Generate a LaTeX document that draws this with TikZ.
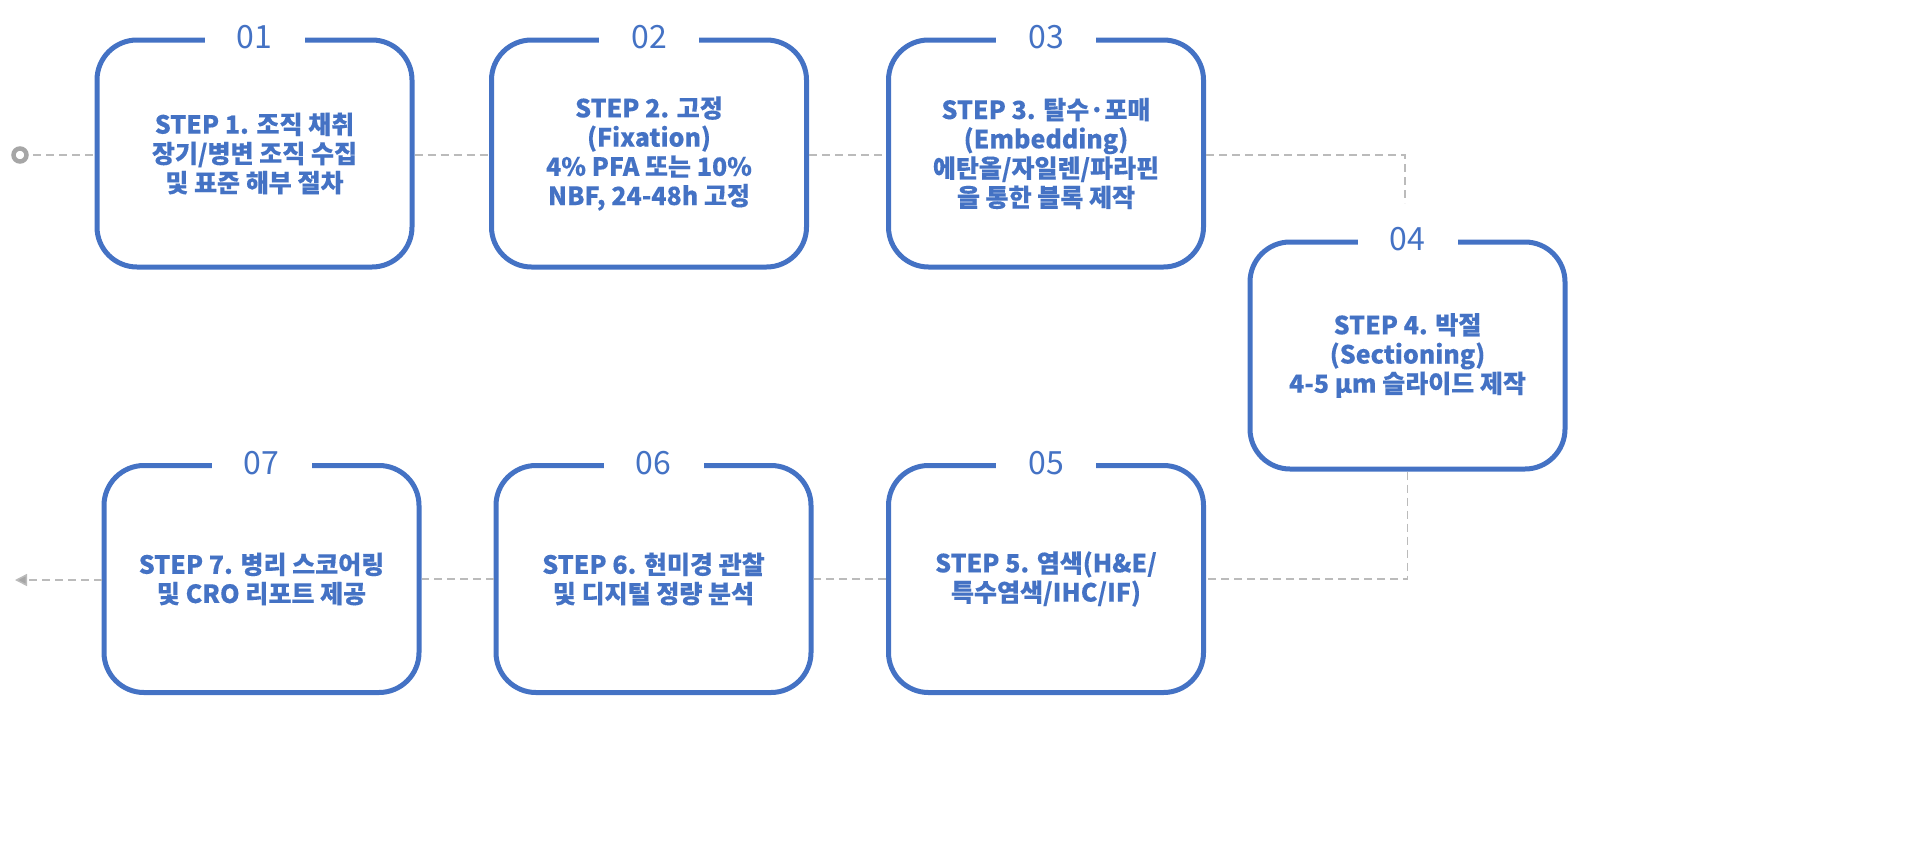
\documentclass[tikz,border=0pt]{standalone}
\usepackage{fontspec}
\setmainfont{Noto Sans CJK KR}[BoldFeatures={FakeBold=0.25}]
\usetikzlibrary{arrows.meta}
\definecolor{bl}{HTML}{4472C4}
\definecolor{gl}{HTML}{BBBBBB}
\begin{document}
\begin{tikzpicture}[x=0.5pt,y=-0.5pt,
  box/.style={draw=bl,line width=2.5pt,rounded corners=20pt,minimum width=157.5pt,minimum height=113.5pt,
    align=center,text=bl,font=\fontsize{12.5}{14.6}\selectfont\bfseries,inner sep=0pt},
  num/.style={fill=white,text=bl,minimum width=50pt,inner sep=1pt,font=\fontsize{16}{16}\selectfont},
  con/.style={draw=gl,line width=0.75pt,dash pattern=on 4pt off 2.5pt}]
\useasboundingbox (0,0) rectangle (1920,851);
\node[box] (b1) at (254.5,153.5) {STEP 1. 조직 채취\\장기/병변 조직 수집\\및 표준 해부 절차};
\node[box] (b2) at (649,153.5) {STEP 2. 고정\\(Fixation)\\4\% PFA 또는 10\%\\NBF, 24-48h 고정};
\node[box] (b3) at (1046,153.5) {STEP 3. 탈수·포매\\(Embedding)\\에탄올/자일렌/파라핀\\을 통한 블록 제작};
\node[box] (b4) at (1407.5,355.5) {STEP 4. 박절\\(Sectioning)\\4-5 μm 슬라이드 제작};
\node[box] (b5) at (1046,579) {STEP 5. 염색(H\&E/\\특수염색/IHC/IF)};
\node[box] (b6) at (653.5,579) {STEP 6. 현미경 관찰\\및 디지털 정량 분석};
\node[box] (b7) at (261.5,579) {STEP 7. 병리 스코어링\\및 CRO 리포트 제공};
\foreach \b/\n in {b1/01,b2/02,b3/03,b4/04,b5/05,b6/06,b7/07}
  \node[num] (n\b) at (\b.north) {\n};
\coordinate (s) at (20,155);
\coordinate (c4) at (1405,203);
\coordinate (e) at (15,580);
\draw[con] (s) -- (b1.west |- s);
\draw[con] (b1.east |- s) -- (b2.west |- s);
\draw[con] (b2.east |- s) -- (b3.west |- s);
\draw[con] (b3.east |- s) -| (c4);
\draw[con] (b4.south) |- (b5.east);
\draw[con] (b5) -- (b6);
\draw[con] (b6) -- (b7);
\draw[con,-{Triangle[length=6pt,width=6pt,fill=gray!70]}] (b7.west |- e) -- (e);
\draw[gray!70,line width=2.25pt,fill=white] (s) circle (3.25pt);
\end{tikzpicture}
\end{document}
